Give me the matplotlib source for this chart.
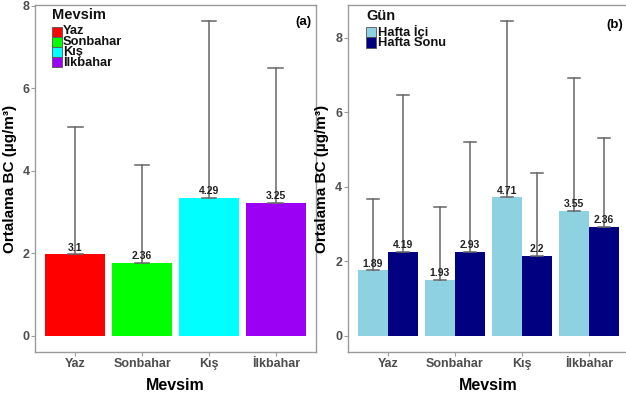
import matplotlib
matplotlib.use("Agg")
import matplotlib.pyplot as plt
import numpy as np
from matplotlib.patches import Rectangle

plt.rcParams['font.family'] = ['Liberation Sans', 'DejaVu Sans']

seasons = ["Yaz", "Sonbahar", "Kış", "İlkbahar"]
season_means = [1.98, 1.77, 3.34, 3.23]
season_upper = [5.07, 4.15, 7.64, 6.49]
season_labels = ["3.1", "2.36", "4.29", "3.25"]
season_colors = ["#FF0000", "#00FF00", "#00FFFF", "#9B00F5"]

day_names = ["Hafta İçi", "Hafta Sonu"]
weekday_means = [1.76, 1.50, 3.72, 3.36]
weekday_upper = [3.67, 3.45, 8.46, 6.93]
weekday_labels = ["1.89", "1.93", "4.71", "3.55"]
weekend_means = [2.25, 2.25, 2.15, 2.92]
weekend_upper = [6.46, 5.19, 4.36, 5.30]
weekend_labels = ["4.19", "2.93", "2.2", "2.36"]
day_colors = ["#8ED1E1", "#000080"]

W, H = 626, 399
fig = plt.figure(figsize=(W / 100, H / 100), dpi=100)

def px_axes(x0, x1, y0, y1):
    return fig.add_axes([x0 / W, 1 - y1 / H, (x1 - x0) / W, (y1 - y0) / H])

ax1 = px_axes(35, 316, 5, 352)
ax2 = px_axes(347.7, 629, 5, 352)

tick_col = "#4D4D4D"
err_col = "#666666"

def style(ax, ylim):
    ax.set_xlim(0.4, 4.6)
    ax.set_ylim(*ylim)
    ax.set_yticks([0, 2, 4, 6, 8])
    ax.set_xticks(range(1, 5))
    ax.set_xticklabels(seasons)
    for s in ax.spines.values():
        s.set_color("#9A9A9A")
        s.set_linewidth(1.0)
    ax.tick_params(colors="#9A9A9A", length=3, width=0.8, labelcolor=tick_col, labelsize=9, pad=1)
    for lab in ax.get_xticklabels() + ax.get_yticklabels():
        lab.set_fontweight("bold")
    ax.set_xlabel("Mevsim", fontsize=11.5, fontweight="bold", labelpad=6)
    ax.set_ylabel("Ortalama BC (µg/m³)", fontsize=11, fontweight="bold", labelpad=4)

def errbars(ax, xs, lo, hi, capw):
    for x, l, h in zip(xs, lo, hi):
        ax.plot([x, x], [l, h], color=err_col, lw=1.1, zorder=3)
        ax.plot([x - capw, x + capw], [h, h], color=err_col, lw=1.1, zorder=3)
        ax.plot([x - capw, x + capw], [l, l], color=err_col, lw=1.1, zorder=3)

def legend(title, names, colors, title_xy, key_x, row_top, row_h, text_x):
    # positions given in figure pixels (from top-left)
    fx = lambda px: px / W
    fy = lambda py: 1 - py / H
    fig.text(fx(title_xy[0]), fy(title_xy[1]), title, ha="left", va="center",
             fontsize=10.5, fontweight="bold", color="#111111")
    for i, c in enumerate(colors):
        top = row_top + i * row_h
        fig.patches.append(Rectangle((fx(key_x[0]), fy(top + row_h)), fx(key_x[1]) - fx(key_x[0]),
                                     row_h / H, transform=fig.transFigure, facecolor=c,
                                     edgecolor="#555555", linewidth=0.6, zorder=5))
    n = len(names)
    fig.text(fx(text_x), fy(row_top + n * row_h / 2), "\n".join(names), ha="left", va="center",
             fontsize=9.3, fontweight="bold", color="#111111", linespacing=0.86, zorder=5)

# Panel a
x = np.arange(1, 5)
ax1.bar(x, season_means, width=0.9, color=season_colors, zorder=2)
errbars(ax1, x, season_means, season_upper, 0.11)
for xi, m, t in zip(x, season_means, season_labels):
    ax1.text(xi, m + 0.04, t, ha="center", va="bottom", fontsize=7.5, fontweight="bold", color="#222222", zorder=4)
style(ax1, (-0.39, 8.02))
fig.text(312 / W, 1 - 22 / H, "(a)", ha="right", va="center", fontsize=9.5, fontweight="bold")
legend("Mevsim", seasons, season_colors, (52, 15), (52, 61.5), 27, 10, 63)

# Panel b
w = 0.45
ax2.bar(x - w / 2, weekday_means, width=w, color=day_colors[0], zorder=2)
ax2.bar(x + w / 2, weekend_means, width=w, color=day_colors[1], zorder=2)
errbars(ax2, x - w / 2, weekday_means, weekday_upper, 0.09)
errbars(ax2, x + w / 2, weekend_means, weekend_upper, 0.09)
for xi, m, t in zip(x - w / 2, weekday_means, weekday_labels):
    ax2.text(xi, m + 0.04, t, ha="center", va="bottom", fontsize=7.5, fontweight="bold", color="#222222", zorder=4)
for xi, m, t in zip(x + w / 2, weekend_means, weekend_labels):
    ax2.text(xi, m + 0.04, t, ha="center", va="bottom", fontsize=7.5, fontweight="bold", color="#222222", zorder=4)
style(ax2, (-0.44, 8.88))
fig.text(623 / W, 1 - 25 / H, "(b)", ha="right", va="center", fontsize=9.5, fontweight="bold")
legend("Gün", day_names, day_colors, (366, 15.5), (366, 375.7), 26.5, 10.5, 378)

fig.savefig("out.png", dpi=100)
